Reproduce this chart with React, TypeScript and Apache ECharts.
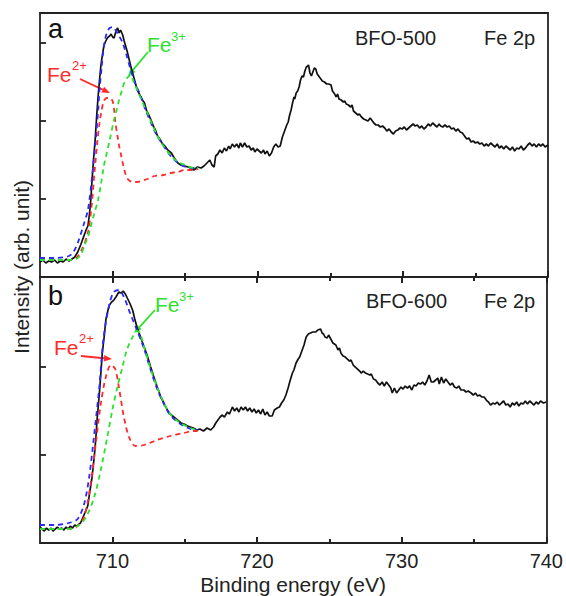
import { useEffect, useRef } from "react";
import * as echarts from "echarts";

// Binding energy ticks (eV)
const xMajorTicks = [710, 720, 730, 740];
const xMinorTicks = [715, 725, 735];
const panelATicks = [78, 156, 234];
const panelBTicks = [88, 176];

// Panel a: BFO-500 (intensity, arb. unit)
const aMeasured: [number, number][] = [
  [705.0, 15], [705.2, 17], [705.4, 14], [705.6, 16], [705.8, 15], [706.0, 17], [706.2, 14], [706.4, 16], [706.6, 15], [706.8, 18],
  [707.0, 16], [707.2, 18], [707.4, 20], [707.6, 25], [707.8, 32], [708.0, 40], [708.2, 48], [708.3, 51], [708.4, 62], [708.5, 77],
  [708.6, 100], [708.7, 120], [708.8, 137], [708.9, 160], [709.0, 180], [709.1, 197], [709.2, 212], [709.3, 222], [709.4, 231], [709.5, 235],
  [709.6, 238], [709.7, 240], [709.8, 241], [709.9, 243], [710.0, 240], [710.1, 239], [710.2, 244], [710.3, 248], [710.35, 249], [710.45, 244],
  [710.55, 247], [710.7, 242], [710.8, 236], [710.9, 231], [711.0, 226], [711.1, 220], [711.25, 211], [711.4, 203], [711.55, 195], [711.7, 187],
  [711.85, 183], [712.0, 178], [712.2, 174], [712.35, 166], [712.5, 162], [712.65, 157], [712.8, 151], [712.95, 147], [713.1, 141], [713.25, 138],
  [713.4, 134], [713.6, 131], [713.8, 127], [714.05, 124], [714.25, 119], [714.5, 114], [714.7, 112], [714.95, 111], [715.2, 110], [715.4, 109],
  [715.6, 107], [715.85, 110], [716.1, 109], [716.3, 111], [716.5, 114], [716.7, 117], [716.85, 112], [717.0, 110], [717.1, 121], [717.25, 123],
  [717.4, 127], [717.55, 124], [717.7, 129], [717.85, 126], [718.0, 131], [718.1, 128], [718.25, 133], [718.4, 130], [718.55, 133], [718.7, 129],
  [718.8, 134], [718.95, 130], [719.1, 134], [719.25, 130], [719.4, 131], [719.55, 127], [719.7, 129], [719.8, 125], [719.95, 128], [720.1, 126],
  [720.25, 124], [720.4, 127], [720.5, 123], [720.65, 126], [720.8, 121], [720.95, 124], [721.1, 130], [721.25, 133], [721.4, 130], [721.55, 131],
  [721.7, 140], [721.85, 146], [722.0, 152], [722.1, 155], [722.2, 162], [722.3, 167], [722.4, 174], [722.5, 180], [722.55, 178], [722.65, 184],
  [722.75, 186], [722.85, 190], [722.95, 197], [723.05, 201], [723.15, 200], [723.25, 206], [723.35, 210], [723.45, 211], [723.5, 212], [723.6, 204],
  [723.7, 201], [723.8, 205], [723.9, 209], [724.0, 208], [724.1, 203], [724.2, 201], [724.3, 199], [724.45, 196], [724.6, 195], [724.75, 193],
  [724.9, 193], [725.05, 192], [725.15, 186], [725.3, 183], [725.4, 180], [725.5, 183], [725.6, 178], [725.75, 177], [725.9, 175], [726.0, 176],
  [726.1, 173], [726.25, 172], [726.4, 170], [726.5, 172], [726.6, 166], [726.75, 164], [726.9, 162], [727.0, 163], [727.15, 160], [727.3, 158],
  [727.45, 157], [727.6, 156], [727.75, 159], [727.85, 157], [728.0, 154], [728.15, 152], [728.3, 152], [728.45, 150], [728.6, 151], [728.75, 149],
  [728.9, 146], [729.05, 148], [729.2, 145], [729.35, 143], [729.5, 146], [729.65, 147], [729.8, 149], [729.95, 148], [730.1, 150], [730.25, 147],
  [730.4, 149], [730.55, 151], [730.7, 153], [730.85, 151], [731.0, 152], [731.15, 149], [731.3, 151], [731.45, 148], [731.6, 150], [731.75, 153],
  [731.9, 151], [732.05, 154], [732.2, 152], [732.35, 150], [732.5, 153], [732.6, 151], [732.75, 150], [732.9, 152], [733.05, 150], [733.2, 151],
  [733.35, 148], [733.5, 149], [733.65, 146], [733.8, 148], [733.95, 145], [734.1, 144], [734.25, 141], [734.4, 138], [734.55, 139], [734.7, 135],
  [734.85, 136], [735.0, 134], [735.15, 135], [735.3, 133], [735.45, 134], [735.6, 131], [735.75, 133], [735.9, 131], [736.05, 134], [736.2, 132],
  [736.35, 130], [736.5, 133], [736.65, 129], [736.8, 131], [736.95, 128], [737.1, 131], [737.25, 129], [737.4, 127], [737.55, 130], [737.7, 126],
  [737.85, 129], [738.0, 128], [738.15, 131], [738.3, 127], [738.45, 129], [738.6, 132], [738.75, 134], [738.9, 131], [739.05, 133], [739.2, 130],
  [739.35, 133], [739.5, 131], [739.65, 133], [739.8, 130], [740.0, 132],
];
const aEnvelope: [number, number][] = [
  [705, 19], [706, 19], [707, 21], [707.3, 25], [707.6, 34], [708.0, 52], [708.3, 67], [708.55, 95], [708.8, 131], [709.0, 165],
  [709.1, 187], [709.25, 210], [709.4, 231], [709.6, 244], [709.8, 249], [710.0, 250], [710.2, 247], [710.45, 241], [710.7, 234], [711.0, 220],
  [711.25, 207], [711.6, 192], [711.95, 181], [712.3, 166], [712.65, 154], [713.0, 143], [713.3, 136], [713.65, 128], [714.0, 121], [714.35, 116],
  [714.7, 112], [715.1, 110], [715.6, 109], [715.9, 109],
];
const aFe2: [number, number][] = [
  [705, 17], [706, 17], [707, 17], [707.5, 19], [707.9, 28], [708.3, 44], [708.55, 70], [708.75, 104], [708.95, 135], [709.1, 154],
  [709.25, 167], [709.4, 176], [709.6, 179], [709.8, 179], [710.0, 176], [710.1, 168], [710.2, 154], [710.35, 140], [710.45, 131], [710.6, 121],
  [710.7, 114], [710.85, 105], [711.0, 99], [711.2, 96], [711.4, 95], [711.7, 95], [711.95, 96], [712.4, 98], [712.9, 101], [713.5, 102],
  [714.0, 104], [714.5, 105], [714.95, 107], [715.6, 107], [715.9, 108],
];
const aFe3: [number, number][] = [
  [705, 17], [706, 17], [707, 17], [707.5, 18], [707.8, 22], [708.05, 31], [708.3, 40], [708.5, 51], [708.75, 64], [709.0, 77],
  [709.2, 93], [709.4, 111], [709.6, 124], [709.8, 137], [710.1, 157], [710.3, 168], [710.45, 177], [710.65, 187], [710.8, 194], [711.0, 199],
  [711.25, 202], [711.45, 195], [711.7, 187], [712.05, 175], [712.4, 164], [712.75, 152], [713.1, 141], [713.5, 131], [714.0, 122], [714.5, 115],
  [715.0, 112], [715.6, 109], [715.9, 109],
];

// Panel b: BFO-600 (intensity, arb. unit)
const bMeasured: [number, number][] = [
  [705.0, 16], [705.15, 14], [705.3, 12], [705.45, 15], [705.6, 13], [705.75, 15], [705.9, 12], [706.05, 14], [706.2, 16], [706.35, 14],
  [706.5, 15], [706.65, 13], [706.8, 16], [706.95, 14], [707.1, 17], [707.25, 15], [707.4, 18], [707.55, 17], [707.7, 19], [707.8, 20],
  [707.95, 25], [708.1, 30], [708.3, 37], [708.45, 52], [708.6, 66], [708.75, 86], [708.85, 103], [708.95, 124], [709.1, 149], [709.2, 168],
  [709.3, 189], [709.45, 208], [709.55, 223], [709.7, 233], [709.8, 238], [709.95, 241], [710.1, 243], [710.25, 246], [710.45, 251], [710.6, 250],
  [710.75, 252], [710.9, 249], [711.0, 246], [711.2, 240], [711.4, 233], [711.55, 224], [711.7, 216], [711.95, 206], [712.2, 196], [712.4, 188],
  [712.65, 176], [712.85, 167], [713.1, 156], [713.35, 146], [713.6, 139], [713.8, 133], [714.0, 129], [714.25, 126], [714.5, 123], [714.75, 120],
  [714.95, 119], [715.2, 117], [715.4, 116], [715.6, 115], [715.85, 113], [716.05, 114], [716.3, 112], [716.55, 115], [716.8, 113], [717.0, 116],
  [717.15, 120], [717.3, 123], [717.45, 126], [717.6, 128], [717.75, 126], [717.95, 131], [718.1, 129], [718.3, 136], [718.45, 132], [718.6, 135],
  [718.75, 131], [718.9, 136], [719.05, 133], [719.2, 136], [719.35, 132], [719.5, 135], [719.65, 131], [719.8, 134], [719.95, 130], [720.1, 133],
  [720.25, 129], [720.4, 134], [720.55, 128], [720.7, 131], [720.85, 127], [721.05, 127], [721.2, 133], [721.4, 135], [721.55, 136], [721.7, 140],
  [721.85, 143], [722.0, 148], [722.15, 155], [722.3, 163], [722.45, 170], [722.55, 173], [722.7, 180], [722.85, 184], [722.95, 186], [723.1, 192],
  [723.25, 198], [723.4, 206], [723.55, 209], [723.7, 210], [723.85, 211], [724.05, 211], [724.2, 213], [724.4, 214], [724.5, 210], [724.6, 209],
  [724.7, 206], [724.85, 205], [724.95, 208], [725.1, 204], [725.25, 200], [725.45, 198], [725.6, 193], [725.7, 195], [725.8, 190], [725.95, 187],
  [726.1, 186], [726.25, 184], [726.4, 182], [726.5, 183], [726.65, 178], [726.8, 176], [726.95, 174], [727.1, 172], [727.2, 170], [727.35, 172],
  [727.5, 170], [727.65, 169], [727.8, 168], [727.9, 169], [728.05, 164], [728.2, 163], [728.35, 160], [728.5, 158], [728.65, 161], [728.8, 157],
  [728.95, 161], [729.1, 158], [729.25, 155], [729.35, 150], [729.5, 155], [729.65, 150], [729.8, 153], [729.95, 156], [730.1, 154], [730.25, 157],
  [730.4, 155], [730.55, 157], [730.7, 153], [730.85, 158], [731.0, 157], [731.15, 160], [731.3, 159], [731.45, 161], [731.6, 158], [731.75, 162],
  [731.9, 168], [732.05, 161], [732.2, 161], [732.35, 163], [732.5, 165], [732.6, 159], [732.75, 166], [732.9, 160], [733.05, 164], [733.2, 161],
  [733.35, 158], [733.5, 160], [733.65, 156], [733.8, 155], [733.95, 157], [734.1, 153], [734.3, 153], [734.45, 151], [734.6, 152], [734.8, 150],
  [734.95, 148], [735.1, 150], [735.25, 147], [735.4, 148], [735.55, 146], [735.7, 146], [735.85, 143], [736.0, 141], [736.15, 138], [736.3, 140],
  [736.45, 139], [736.6, 141], [736.75, 138], [736.9, 140], [737.05, 142], [737.2, 138], [737.35, 139], [737.5, 136], [737.65, 140], [737.8, 138],
  [737.95, 141], [738.1, 137], [738.25, 140], [738.4, 139], [738.55, 142], [738.7, 139], [738.85, 142], [739.0, 140], [739.15, 138], [739.3, 141],
  [739.45, 139], [739.6, 142], [739.8, 140], [740.0, 141],
];
const bEnvelope: [number, number][] = [
  [705, 18], [706, 18], [707, 20], [707.6, 24], [708.05, 39], [708.4, 66], [708.75, 109], [709.1, 156], [709.4, 206], [709.8, 239],
  [710.1, 251], [710.45, 253], [710.8, 246], [711.25, 229], [711.7, 213], [712.2, 194], [712.65, 173], [713.1, 154], [713.6, 138], [714.0, 128],
  [714.7, 119], [715.4, 114], [715.6, 113], [715.9, 113],
];
const bFe2: [number, number][] = [
  [705, 14], [706, 14], [707, 14], [707.5, 16], [708.05, 26], [708.5, 59], [708.85, 99], [709.2, 139], [709.55, 166], [709.9, 178],
  [710.2, 174], [710.45, 156], [710.8, 126], [711.15, 106], [711.6, 97], [712.2, 98], [713.1, 103], [714.0, 107], [714.95, 110], [715.6, 112],
  [715.9, 112],
];
const bFe3: [number, number][] = [
  [705, 14], [706, 14], [707, 14], [707.6, 17], [708.0, 22], [708.3, 29], [708.75, 46], [709.2, 73], [709.65, 106], [710.0, 133],
  [710.35, 156], [710.7, 176], [711.0, 193], [711.4, 206], [711.7, 212], [711.9, 210], [712.2, 196], [712.65, 174], [713.1, 156], [713.6, 139],
  [714.0, 129], [714.7, 120], [715.4, 115], [715.6, 114], [715.9, 113],
];

const FONT = "'Liberation Sans', Arial, sans-serif";
const INK = "#222";
const RED = "#ff2a2a";
const GREEN = "#2ee02e";
const BLUE = "#2a2aff";

function arrow(x1: number, y1: number, x2: number, y2: number, color: string) {
  const ang = Math.atan2(y2 - y1, x2 - x1);
  const len = 8;
  const half = 3.2;
  const bx = x2 - len * Math.cos(ang);
  const by = y2 - len * Math.sin(ang);
  const px = -Math.sin(ang) * half;
  const py = Math.cos(ang) * half;
  return [
    { type: "line", shape: { x1, y1, x2: bx, y2: by }, style: { stroke: color, lineWidth: 1.8 } },
    {
      type: "polygon",
      shape: { points: [[x2, y2], [bx + px, by + py], [bx - px, by - py]] },
      style: { fill: color },
    },
  ];
}

function txt(x: number, y: number, text: string, size: number, color: string, align = "left") {
  return {
    type: "text",
    x,
    y,
    style: { text, fontSize: size, fontFamily: FONT, fill: color, align, verticalAlign: "middle" },
  };
}

export default function App() {
  const ref = useRef<HTMLDivElement>(null);
  useEffect(() => {
    if (!ref.current) return;
    const chart = echarts.init(ref.current, undefined, { renderer: "svg" });
    const lineStyle = () => ({ color: INK, width: 1.8 });
    const xAxes: any[] = [];
    const yAxes: any[] = [];
    const yMax = [264, 266];
    [0, 1].forEach((g) => {
      xAxes.push({
        gridIndex: g, type: "value", min: 705, max: 740, interval: 5, position: "bottom",
        splitLine: { show: false },
        axisLine: { show: true, onZero: false, lineStyle: lineStyle() },
        axisTick: { show: false },
        axisLabel: g === 1
          ? {
              show: true, fontSize: 20, fontFamily: FONT, color: INK, margin: 8,
              formatter: (v: number) => (xMajorTicks.includes(v) ? String(v) : ""),
            }
          : { show: false },
        name: g === 1 ? "Binding energy (eV)" : "",
        nameLocation: "middle", nameGap: 31,
        nameTextStyle: { fontSize: 21, fontFamily: FONT, color: INK },
      });
      xAxes.push({
        gridIndex: g, type: "value", min: 705, max: 740, position: "top",
        splitLine: { show: false },
        axisLine: { show: true, onZero: false, lineStyle: lineStyle() },
        axisTick: { show: false }, axisLabel: { show: false },
      });
      yAxes.push({
        gridIndex: g, type: "value", min: 0, max: yMax[g], position: "left",
        axisLine: { show: true, onZero: false, lineStyle: lineStyle() },
        axisTick: { show: true, inside: true, length: 6, customValues: g === 0 ? panelATicks : panelBTicks, lineStyle: lineStyle() },
        axisLabel: { show: false }, splitLine: { show: false },
      });
      yAxes.push({
        gridIndex: g, type: "value", min: 0, max: yMax[g], position: "right",
        axisLine: { show: true, onZero: false, lineStyle: lineStyle() },
        axisTick: { show: false }, axisLabel: { show: false }, splitLine: { show: false },
      });
    });

    // x tick marks as short markLine segments in data units (1 unit of intensity = 1 px here)
    const tickLines = (g: number) => {
      const segs: any[] = [];
      const edges = g === 0 ? [0] : [0, 1];
      edges.forEach((edge) => {
        const y0 = edge === 1 ? yMax[g] : 0;
        const dir = edge === 1 ? -1 : 1;
        xMajorTicks.forEach((v) => segs.push([{ coord: [v, y0] }, { coord: [v, y0 + dir * 6] }]));
        xMinorTicks.forEach((v) => segs.push([{ coord: [v, y0] }, { coord: [v, y0 + dir * 4] }]));
      });
      return {
        silent: true,
        symbol: ["none", "none"],
        label: { show: false },
        animation: false,
        lineStyle: { color: INK, width: 2, type: "solid" },
        emphasis: { disabled: true },
        data: segs,
      };
    };

    const mk = (data: [number, number][], g: number, color: string, dashed: boolean) => ({
      type: "line",
      xAxisIndex: g * 2,
      yAxisIndex: g * 2,
      data,
      showSymbol: false,
      symbol: "none",
      smooth: dashed ? 0.3 : false,
      lineStyle: dashed
        ? { color, width: 1.8, type: [5, 4] }
        : { color: "#111", width: 1.7 },
      z: dashed ? 3 : 2,
      silent: true,
      ...(dashed ? {} : { markLine: tickLines(g) }),
    });

    const graphic: any[] = [
      txt(48, 29, "a", 27, "#111"),
      txt(48, 296, "b", 27, "#111"),
      txt(355, 38, "BFO-500", 20, INK),
      txt(484, 38, "Fe 2p", 20, INK),
      txt(366, 301, "BFO-600", 20, INK),
      txt(484, 301, "Fe 2p", 20, INK),
      txt(47, 74, "Fe", 21, RED),
      txt(72, 65, "2+", 13, RED),
      txt(147, 44, "Fe", 21, GREEN),
      txt(171, 36, "3+", 13, GREEN),
      txt(54, 347, "Fe", 21, RED),
      txt(79, 338, "2+", 13, RED),
      txt(155, 304, "Fe", 21, GREEN),
      txt(179, 296, "3+", 13, GREEN),
      ...arrow(80, 79, 110, 93, RED),
      ...arrow(148, 52, 128, 76, GREEN),
      ...arrow(81, 356, 112, 359, RED),
      ...arrow(155, 310, 134, 333, GREEN),
      {
        type: "text",
        x: 21,
        y: 267,
        rotation: Math.PI / 2,
        style: {
          text: "Intensity (arb. unit)", fontSize: 21, fontFamily: FONT, fill: INK,
          align: "center", verticalAlign: "middle",
        },
      },
    ];

    chart.setOption({
      animation: false,
      backgroundColor: "#fff",
      grid: [
        { left: 40, top: 13, width: 508, height: 264 },
        { left: 40, top: 277, width: 508, height: 266 },
      ],
      xAxis: xAxes,
      yAxis: yAxes,
      series: [
        mk(aMeasured, 0, "#111", false),
        mk(aEnvelope, 0, BLUE, true),
        mk(aFe2, 0, RED, true),
        mk(aFe3, 0, GREEN, true),
        mk(bMeasured, 1, "#111", false),
        mk(bEnvelope, 1, BLUE, true),
        mk(bFe2, 1, RED, true),
        mk(bFe3, 1, GREEN, true),
      ],
      graphic,
    });
    return () => chart.dispose();
  }, []);
  return (
    <div
      ref={ref}
      style={{ position: "absolute", left: 0, top: 0, width: 566, height: 596 }}
    />
  );
}
